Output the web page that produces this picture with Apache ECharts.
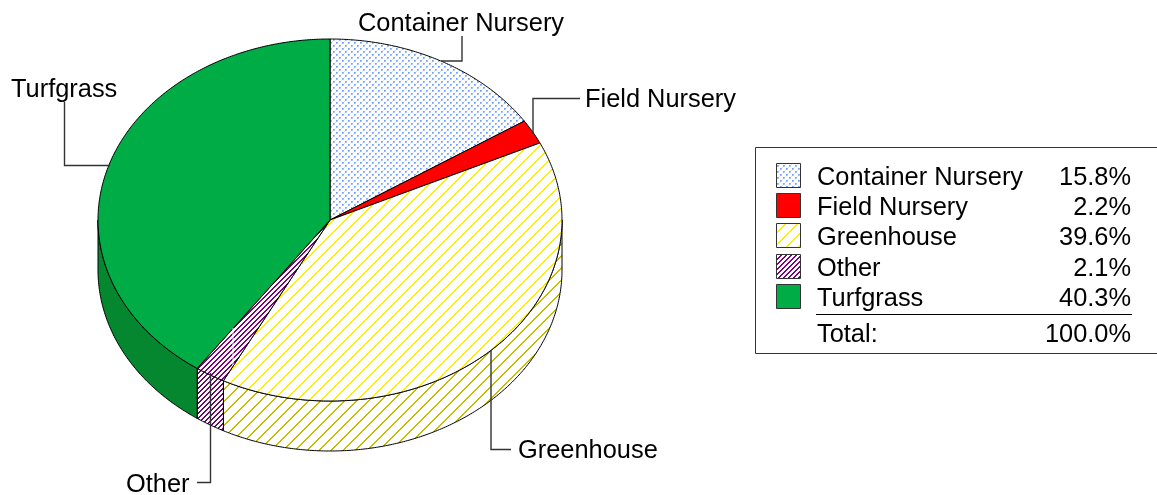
<!DOCTYPE html>
<html><head><meta charset="utf-8">
<style>html,body{margin:0;padding:0;background:#fff}#c{width:1157px;height:495px}</style>
<script src="https://cdn.jsdelivr.net/npm/echarts@6/dist/echarts.min.js"></script>
</head><body><div id="c"></div>
<script>
// ---- data ----
const categories = ['Container Nursery','Field Nursery','Greenhouse','Other','Turfgrass'];
const shares = [15.8,2.2,39.6,2.1,40.3];
const shareLabels = ['15.8%','2.2%','39.6%','2.1%','40.3%'];
const totalLabel = 'Total:';
const totalValue = '100.0%';

// ---- layout ----
const CX=330, CY=220, RX=232, RY=181, DEPTH=50;
const FONT='"Liberation Sans", Arial, sans-serif', FS=25.4, TEXT_DY=2;
const calloutPaths = [
  [[441,61],[462,61],[462,36]],
  [[533,134],[533,98.5],[580,98.5]],
  [[491,350],[491,449.5],[511,449.5]],
  [[210.5,373],[210.5,482.5],[197,482.5]],
  [[110,165.5],[64.5,165.5],[64.5,102]]
];
const calloutText = [[358,22],[585,98],[518,449],[126,483],[11,88]];

function hatch(p,w,color){
  const c=document.createElement('canvas');c.width=c.height=p;
  const g=c.getContext('2d');g.fillStyle='#fff';g.fillRect(0,0,p,p);g.fillStyle=color;
  for(let x=0;x<p;x++)for(let y=0;y<p;y++) if((x+y)%p<w) g.fillRect(x,y,1,1);
  return {image:c,repeat:'repeat'};
}
function dots(){
  const p=6,c=document.createElement('canvas');c.width=c.height=p;
  const g=c.getContext('2d');g.fillStyle='#fff';g.fillRect(0,0,p,p);
  [[0,0,'#6f9fff'],[1,0,'#8fb5ff'],[0,1,'#8fb5ff'],[1,1,'#b4cfff'],[3,3,'#6f9fff'],[4,3,'#8fb5ff'],[3,4,'#8fb5ff'],[4,4,'#b4cfff'],[2,5,'#dbe7ff'],[5,2,'#dbe7ff']]
    .forEach(d=>{g.fillStyle=d[2];g.fillRect(d[0],d[1],1,1);});
  return {image:c,repeat:'repeat'};
}
const topFill=[dots(),'#ff0000',hatch(12,2,'#fff000'),hatch(5,2,'#800080'),'#00ac46'];
const sideFill=[dots(),'#c00000',hatch(12,2,'#c8be00'),hatch(5,2,'#6a0a6a'),'#05872f'];

const cum=[];shares.reduce((s,v,i)=>{cum[i]=[s,s+v];return s+v;},0);
const total=shares.reduce((a,b)=>a+b,0);
const ang=v=>v/total*Math.PI*2;
const pt=(a,dy)=>[CX+RX*Math.sin(a),CY-RY*Math.cos(a)+(dy||0)];
function arc(a0,a1,dy){
  const n=Math.max(2,Math.ceil((a1-a0)/0.01)),o=[];
  for(let i=0;i<=n;i++)o.push(pt(a0+(a1-a0)*i/n,dy));
  return o;
}
function renderTop(params,api){
  const i=params.dataIndex;
  const pts=[[CX,CY]].concat(arc(ang(cum[i][0]),ang(cum[i][1])));
  return {type:'polygon',shape:{points:pts},style:{fill:topFill[i],stroke:'#000',lineWidth:1,lineJoin:'round'}};
}
function renderSide(params,api){
  const i=params.dataIndex;
  const a0=Math.max(ang(cum[i][0]),Math.PI/2),a1=Math.min(ang(cum[i][1]),Math.PI*1.5);
  if(a1<=a0) return {type:'group',children:[]};
  const pts=arc(a0,a1,0).concat(arc(a0,a1,DEPTH).reverse());
  return {type:'polygon',shape:{points:pts},style:{fill:sideFill[i],stroke:'#000',lineWidth:1,lineJoin:'round'}};
}
const tx=(t,x,y,align)=>({type:'text',x,y:y+TEXT_DY,z:20,style:{text:t,x:0,y:0,fill:'#000',font:FS+'px '+FONT,textAlign:align||'left',textVerticalAlign:'middle'}});
const line=(pts)=>({type:'polyline',z:15,shape:{points:pts},style:{stroke:'#333',fill:null,lineWidth:1.4}});
const graphics=[];
categories.forEach((c,i)=>{
  graphics.push(line(calloutPaths[i]));
  graphics.push(tx(c,calloutText[i][0],calloutText[i][1]));
});
graphics.push({type:'rect',z:10,shape:{x:755.5,y:147.5,width:420,height:206},style:{fill:'#fff',stroke:'#333',lineWidth:1}});
const rowY=[176,206,236,267,297];
categories.forEach((c,i)=>{
  graphics.push({type:'rect',z:12,shape:{x:776.5,y:rowY[i]-12.5,width:24,height:24},style:{fill:topFill[i],stroke:'#333',lineWidth:1}});
  graphics.push(tx(c,817,rowY[i]));
  graphics.push(tx(shareLabels[i],1131,rowY[i],'right'));
});
graphics.push({type:'line',z:12,shape:{x1:816,y1:314.5,x2:1132,y2:314.5},style:{stroke:'#000',lineWidth:1}});
graphics.push(tx(totalLabel,817,333));
graphics.push(tx(totalValue,1131,333,'right'));
graphics.push({type:'line',z:14,shape:{x1:233,y1:328,x2:233,y2:365},style:{stroke:'#fff',lineWidth:1}});

const chart=echarts.init(document.getElementById('c'),null,{renderer:'canvas'});
chart.setOption({
  animation:false,
  backgroundColor:'#fff',
  graphic:{elements:graphics},
  series:[
    {type:'custom',coordinateSystem:'none',z:2,silent:true,data:shares.map((v,i)=>({name:categories[i],value:[v]})),renderItem:renderSide},
    {type:'custom',coordinateSystem:'none',z:3,silent:true,data:shares.map((v,i)=>({name:categories[i],value:[v]})),renderItem:renderTop}
  ]
});
</script></body></html>
